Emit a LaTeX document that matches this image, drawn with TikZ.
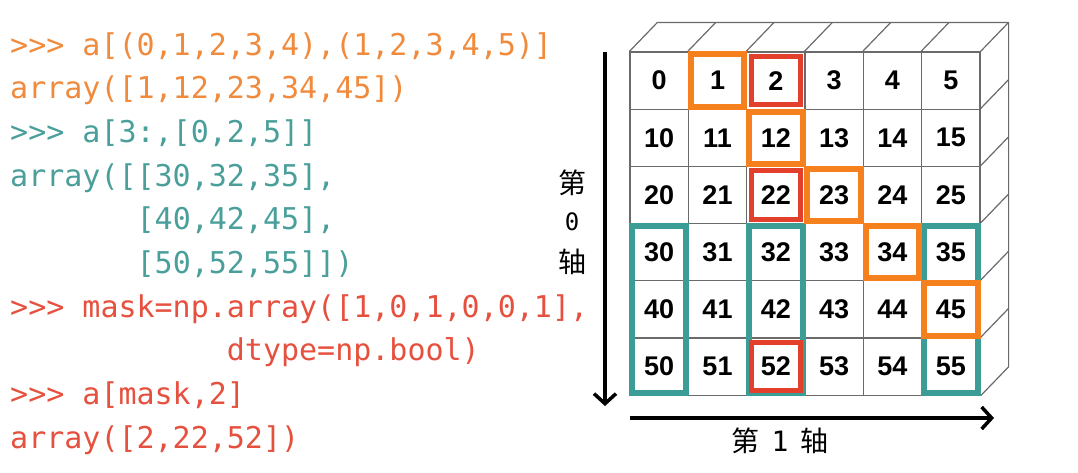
\documentclass[tikz,border=0pt]{standalone}
\usepackage{fontspec}
\setmainfont{Liberation Sans}
\setmonofont{DejaVu Sans Mono}
\newfontfamily\cjkfont{Noto Sans CJK SC}
\usepackage{xcolor}
\usetikzlibrary{positioning, arrows.meta}
\definecolor{codeorange}{HTML}{F08A3C}
\definecolor{codeteal}{HTML}{4A9F9A}
\definecolor{codered}{HTML}{E6503E}
\definecolor{boxorange}{HTML}{F7801E}
\definecolor{boxred}{HTML}{E2402C}
\definecolor{boxteal}{HTML}{3C9C96}
\definecolor{gridgray}{HTML}{6A6A6A}

\begin{document}
\begin{tikzpicture}[
  x=1pt, y=-1pt,
  code/.style={anchor=west, inner sep=0pt, text height=22pt, text depth=6pt, font=\ttfamily\fontsize{30}{36}\selectfont},
  cell/.style={draw=gridgray, line width=1.2pt, minimum width=58.33pt, minimum height=57.2pt, inner sep=0pt, font=\bfseries\fontsize{27}{30}\selectfont},
  edge/.style={draw=gridgray, line width=1.2pt},
  obox/.style={draw=boxorange, line width=6pt},
  rbox/.style={draw=boxred, line width=5pt},
  tbox/.style={draw=boxteal, line width=6pt},
  axis/.style={line width=3.5pt, -{Straight Barb[length=10pt,width=22pt]}},
  axlabel/.style={inner sep=0pt, font=\cjkfont\fontsize{28}{32}\selectfont}
]
\useasboundingbox (0,0) rectangle (1078,472);

% Code
\node[code, text=codeorange] (code1) at (10,47) {>>> a[(0,1,2,3,4),(1,2,3,4,5)]};
\node[code, text=codeorange] (code2) at (10,90.7) {array([1,12,23,34,45])};
\node[code, text=codeteal] (code3) at (10,134.4) {>>> a[3:,[0,2,5]]};
\node[code, text=codeteal] (code4) at (10,178.1) {array([[30,32,35],};
\node[code, text=codeteal] (code5) at (10,221.8) {\phantom{array([}[40,42,45],};
\node[code, text=codeteal] (code6) at (10,265.5) {\phantom{array([}[50,52,55]])};
\node[code, text=codered] (code7) at (10,309.2) {>>> mask=np.array([1,0,1,0,0,1],};
\node[code, text=codered] (code8) at (10,352.9) {\phantom{>>> mask=np.}dtype=np.bool)};
\node[code, text=codered] (code9) at (10,396.6) {>>> a[mask,2]};
\node[code, text=codered] (code10) at (10,440.3) {array([2,22,52])};

% Grid cells
\foreach \r in {0,...,5}
  \foreach \c in {0,...,5}
    \node[cell] (c\r\c) at ({659.17+\c*58.33},{80.6+\r*57.2}) {\the\numexpr\r*10+\c\relax};

% Depth of the block
\draw[edge] ([shift={(28,-29)}]c00.north west) -- ([shift={(28,-29)}]c05.north east) -- ([shift={(28,-29)}]c55.south east) -- (c55.south east);
\foreach \c in {0,...,5}
  \draw[edge] (c0\c.north west) -- ++(28,-29);
\foreach \r in {0,...,5}
  \draw[edge] (c\r5.north east) -- ++(28,-29);

% Highlights
\foreach \c in {0,2,5}
  \draw[tbox] ([shift={(3,3)}]c3\c.north west) rectangle ([shift={(-3,-3)}]c5\c.south east);
\foreach \n in {01,12,23,34,45}
  \draw[obox] ([shift={(3,3)}]c\n.north west) rectangle ([shift={(-3,-3)}]c\n.south east);
\foreach \n in {02,22,52}
  \draw[rbox] ([shift={(5,5)}]c\n.north west) rectangle ([shift={(-5,-5)}]c\n.south east);

% Axes
\coordinate (ax0s) at (605,52);
\coordinate (ax0e) at (605,406);
\coordinate (ax1s) at (630,418);
\coordinate (ax1e) at (994,418);
\draw[axis] (ax0s) -- (ax0e);
\draw[axis] (ax1s) -- (ax1e);

\node[axlabel] (ax0a) at (572,183) {第};
\node[axlabel, font=\ttfamily\fontsize{24}{28}\selectfont] (ax0b) at (572,222) {0};
\node[axlabel] (ax0c) at (572,262) {轴};
\node[axlabel] (ax1l) at (780,441) {第\hspace{12pt}{\ttfamily 1}\hspace{12pt}轴};

\end{tikzpicture}
\end{document}
